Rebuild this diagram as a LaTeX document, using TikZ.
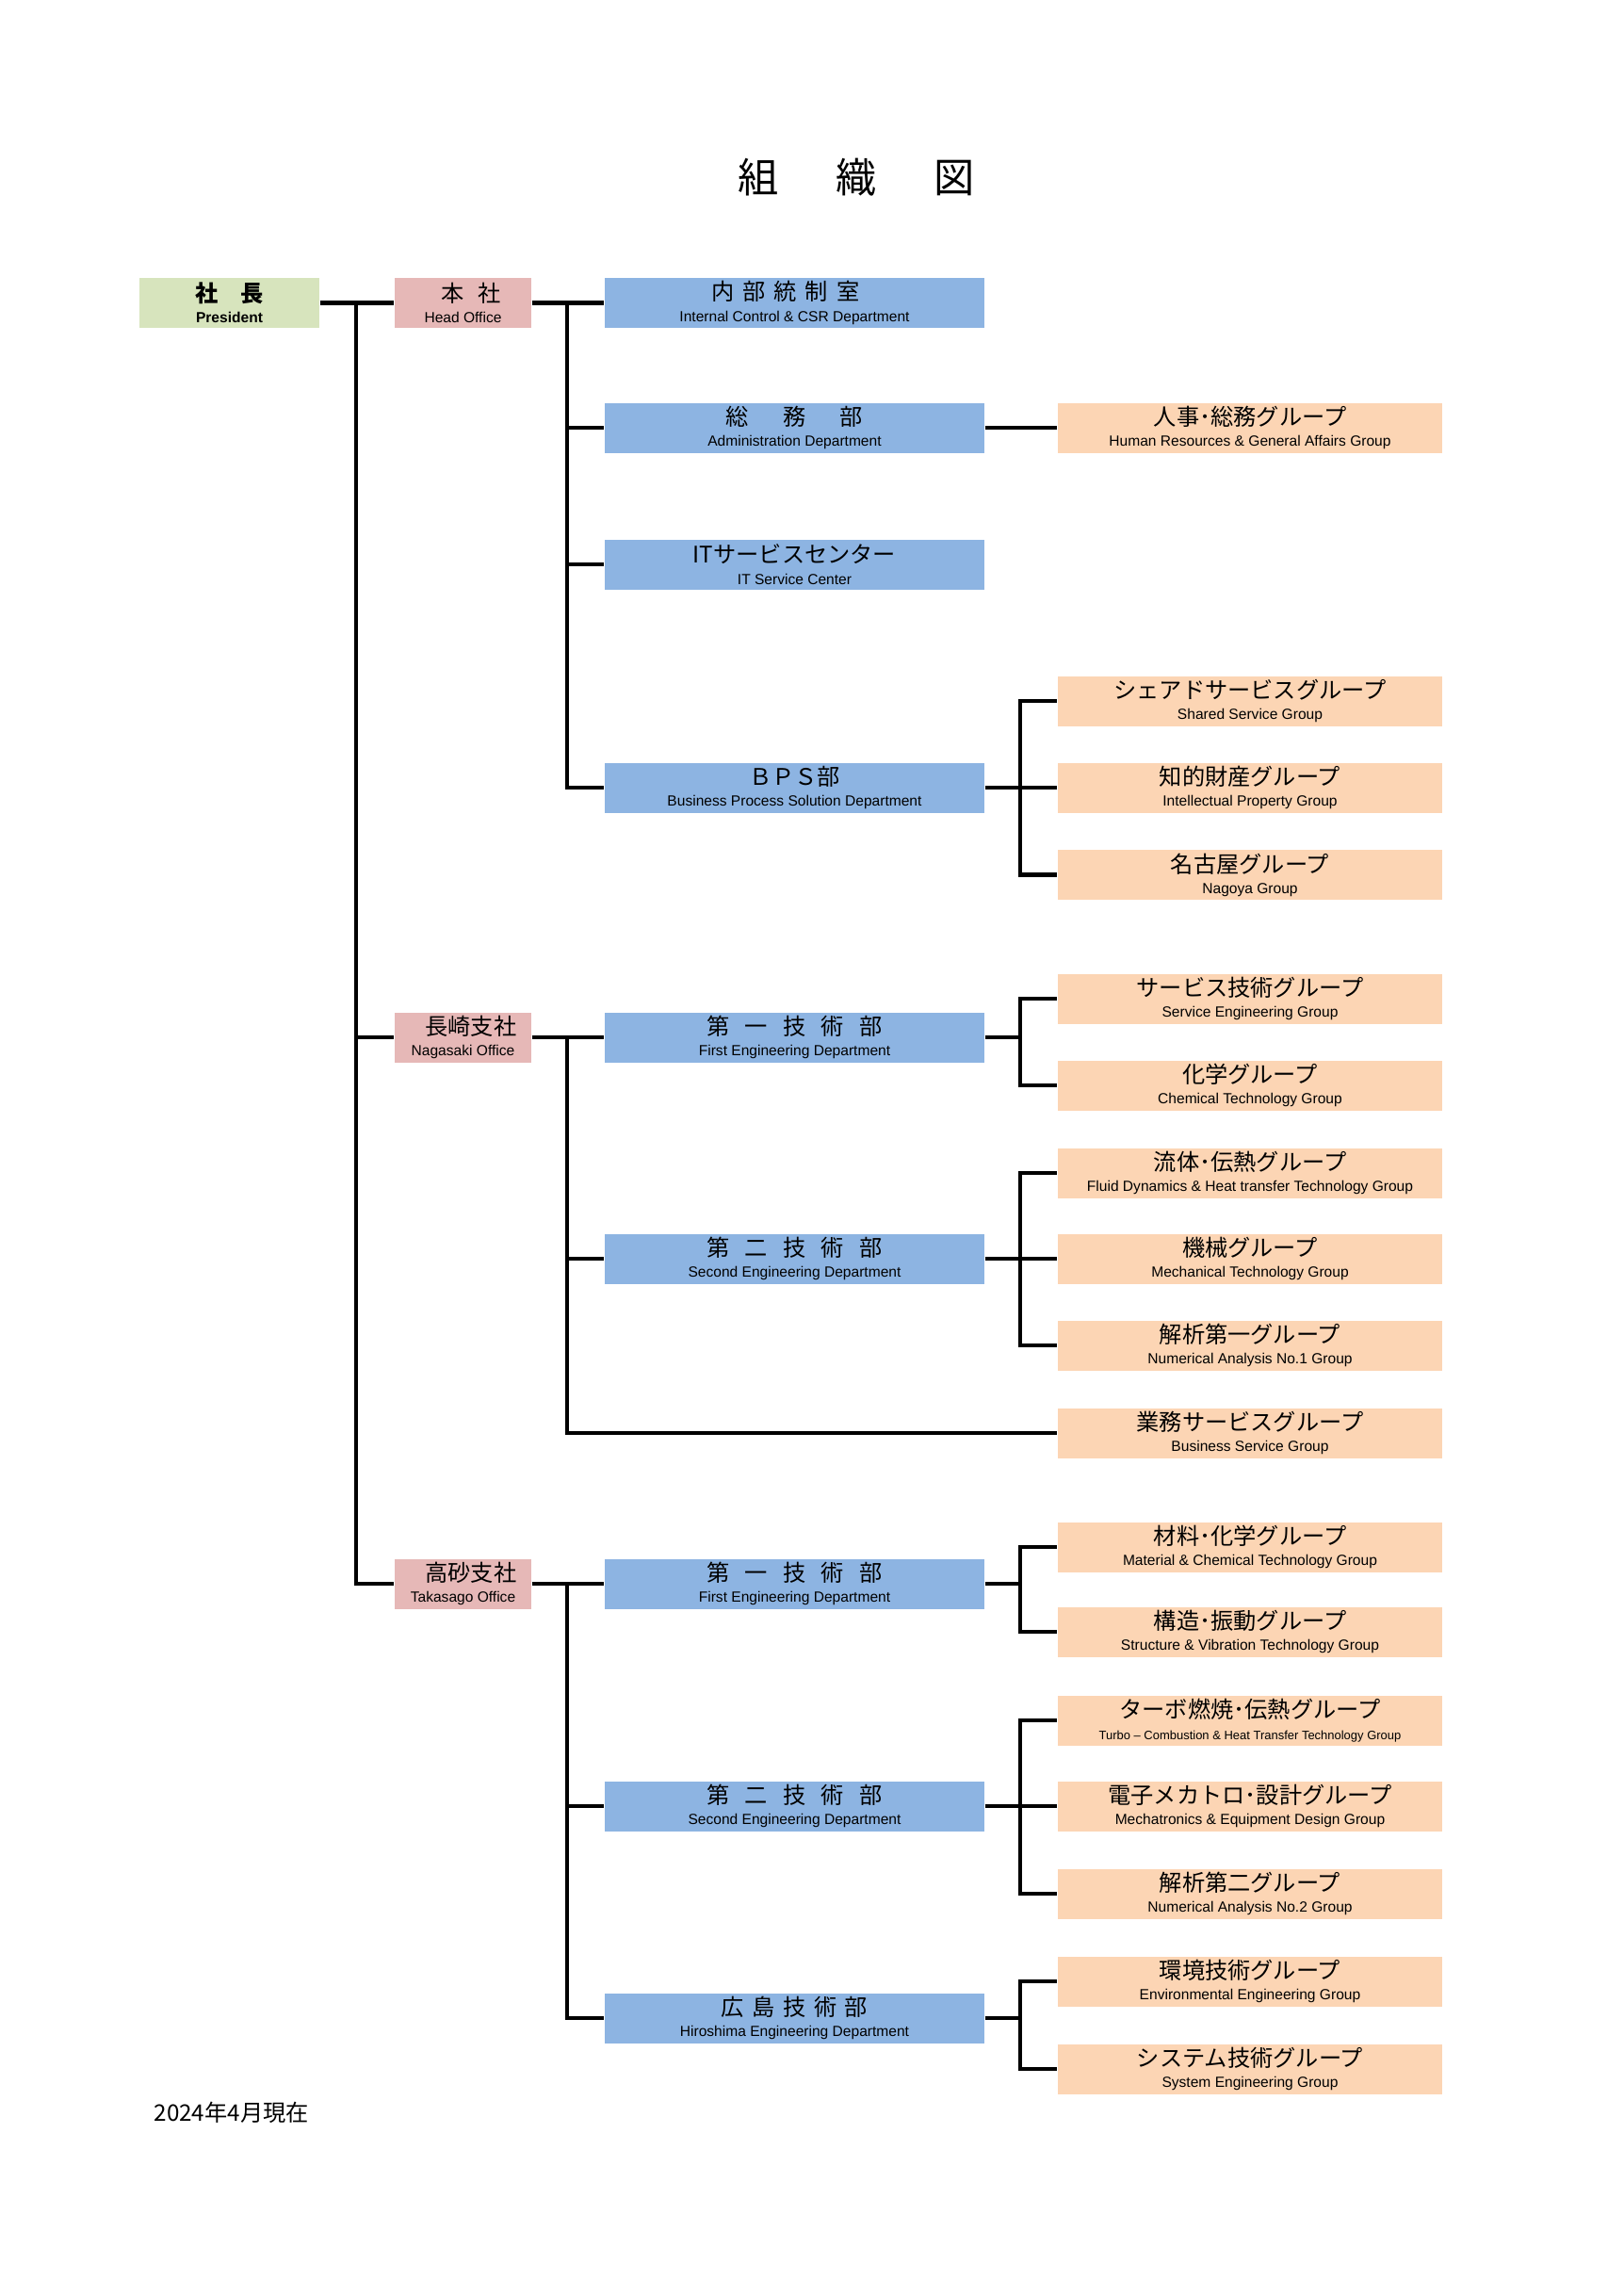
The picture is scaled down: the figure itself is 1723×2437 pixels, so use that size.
\documentclass[tikz,border=0pt]{standalone}
\usepackage{fontspec}
\setmainfont{Liberation Sans}
\newfontfamily\jpf{Noto Sans CJK JP}
\newcommand\jtxt[1]{{\jpf\fontsize{8.4}{8}\selectfont #1}}
\definecolor{cpres}{HTML}{D7E4BD}
\definecolor{coff}{HTML}{E6B8B7}
\definecolor{cdep}{HTML}{8DB4E2}
\definecolor{cgrp}{HTML}{FCD5B4}
\tikzset{
  basebox/.style={rectangle, draw=none, inner sep=0pt, minimum height=6.46mm, align=center,
    font={\lineskiplimit=-10pt\fontsize{5.4}{7.7}\selectfont}},
  presbox/.style={basebox, fill=cpres, minimum width=23.28mm},
  offbox/.style={basebox, fill=coff, minimum width=17.67mm},
  depbox/.style={basebox, fill=cdep, minimum width=49.12mm},
  grpbox/.style={basebox, fill=cgrp, minimum width=49.73mm},
  conn/.style={draw=black, line width=1.4pt, line join=miter}
}
\begin{document}
\begin{tikzpicture}[x=0.12188mm, y=-0.12188mm]
\useasboundingbox (0,0) rectangle (1723,2437);

% title and date
\node[font={\jpf\fontsize{15}{15}\selectfont}, inner sep=0pt] (title) at (909,188) {組\hspace{1.4em}織\hspace{1.4em}図};
\node[anchor=west, inner sep=0pt, font={\jpf\fontsize{8.4}{9}\selectfont}] (date) at (163,2242) {2024年4月現在};

% president
\node[presbox] (pres) at (243.5,321.5) {{\jpf\bfseries\fontsize{8.4}{8}\selectfont 社\hspace{1em}長}\\\textbf{President}};

% offices
\node[offbox] (ho) at (491.5,321.5) {\jtxt{\hspace*{0.7em}本\hspace{0.6em}社}\\Head Office};
\node[offbox] (ns) at (491.5,1101) {\jtxt{\hspace*{0.7em}長崎支社}\\Nagasaki Office};
\node[offbox] (ts) at (491.5,1681) {\jtxt{\hspace*{0.7em}高砂支社}\\Takasago Office};

% departments
\node[depbox] (ic) at (843.5,321.5) {\jtxt{内\hspace{0.37em}部\hspace{0.37em}統\hspace{0.37em}制\hspace{0.37em}室\hspace*{0.8em}}\\Internal Control \& CSR Department};
\node[depbox] (adm) at (843.5,454) {\jtxt{総\hspace{1.5em}務\hspace{1.5em}部}\\Administration Department};
\node[depbox] (it) at (843.5,599) {\jtxt{ITサービスセンター}\\IT Service Center};
\node[depbox] (bps) at (843.5,836) {\jtxt{ＢＰＳ部}\\Business Process Solution Department};
\node[depbox] (n1) at (843.5,1101) {\jtxt{第\hspace{0.67em}一\hspace{0.67em}技\hspace{0.67em}術\hspace{0.67em}部}\\First Engineering Department};
\node[depbox] (n2) at (843.5,1336) {\jtxt{第\hspace{0.67em}二\hspace{0.67em}技\hspace{0.67em}術\hspace{0.67em}部}\\Second Engineering Department};
\node[depbox] (t1) at (843.5,1681) {\jtxt{第\hspace{0.67em}一\hspace{0.67em}技\hspace{0.67em}術\hspace{0.67em}部}\\First Engineering Department};
\node[depbox] (t2) at (843.5,1917) {\jtxt{第\hspace{0.67em}二\hspace{0.67em}技\hspace{0.67em}術\hspace{0.67em}部}\\Second Engineering Department};
\node[depbox] (hir) at (843.5,2142) {\jtxt{広\hspace{0.35em}島\hspace{0.35em}技\hspace{0.35em}術\hspace{0.35em}部}\\Hiroshima Engineering Department};

% groups
\node[grpbox] (hr) at (1327,454) {\jtxt{人事･総務グループ}\\Human Resources \& General Affairs Group};
\node[grpbox] (ssg) at (1327,744) {\jtxt{シェアドサービスグループ}\\Shared Service Group};
\node[grpbox] (ip) at (1327,836) {\jtxt{知的財産グループ}\\Intellectual Property Group};
\node[grpbox] (ngy) at (1327,928.5) {\jtxt{名古屋グループ}\\Nagoya Group};
\node[grpbox] (seg) at (1327,1060) {\jtxt{サービス技術グループ}\\Service Engineering Group};
\node[grpbox] (ctg) at (1327,1152) {\jtxt{化学グループ}\\Chemical Technology Group};
\node[grpbox] (fdg) at (1327,1245) {\jtxt{流体･伝熱グループ}\\Fluid Dynamics \& Heat transfer Technology Group};
\node[grpbox] (mtg) at (1327,1336) {\jtxt{機械グループ}\\Mechanical Technology Group};
\node[grpbox] (na1) at (1327,1428) {\jtxt{解析第一グループ}\\Numerical Analysis No.1 Group};
\node[grpbox] (bsg) at (1327,1521) {\jtxt{業務サービスグループ}\\Business Service Group};
\node[grpbox] (mcg) at (1327,1642) {\jtxt{材料･化学グループ}\\Material \& Chemical Technology Group};
\node[grpbox] (svg) at (1327,1732) {\jtxt{構造･振動グループ}\\Structure \& Vibration Technology Group};
\node[grpbox] (tcg) at (1327,1826) {\jtxt{ターボ燃焼･伝熱グループ}\\{\fontsize{4.5}{7.7}\selectfont Turbo – Combustion \& Heat Transfer Technology Group}};
\node[grpbox] (mdg) at (1327,1917) {\jtxt{電子メカトロ･設計グループ}\\Mechatronics \& Equipment Design Group};
\node[grpbox] (na2) at (1327,2010) {\jtxt{解析第二グループ}\\Numerical Analysis No.2 Group};
\node[grpbox] (env) at (1327,2103) {\jtxt{環境技術グループ}\\Environmental Engineering Group};
\node[grpbox] (sys) at (1327,2196) {\jtxt{システム技術グループ}\\System Engineering Group};

% helper coordinates for vertical lines
\coordinate (tx) at (378,0);
\coordinate (dx) at (602,0);
\coordinate (gx) at (1083,0);

% trunk
\draw[conn] (pres.east) -- (ho.west);
\draw[conn] (pres.east -| tx) |- (ns.west);
\draw[conn] (pres.east -| tx) |- (ts.west);

% head office
\draw[conn] (ho.east) -- (ic.west);
\draw[conn] (ho.east -| dx) |- (adm.west);
\draw[conn] (ho.east -| dx) |- (it.west);
\draw[conn] (ho.east -| dx) |- (bps.west);
\draw[conn] (adm.east) -- (hr.west);
\draw[conn] (bps.east) -- (ip.west);
\draw[conn] (bps.east -| gx) |- (ssg.west);
\draw[conn] (bps.east -| gx) |- (ngy.west);

% nagasaki
\draw[conn] (ns.east) -- (n1.west);
\draw[conn] (ns.east -| dx) |- (n2.west);
\draw[conn] (ns.east -| dx) |- (bsg.west);
\draw[conn] (n1.east) -- (n1.east -| gx);
\draw[conn] (n1.east -| gx) |- (seg.west);
\draw[conn] (n1.east -| gx) |- (ctg.west);
\draw[conn] (n2.east) -- (mtg.west);
\draw[conn] (n2.east -| gx) |- (fdg.west);
\draw[conn] (n2.east -| gx) |- (na1.west);

% takasago
\draw[conn] (ts.east) -- (t1.west);
\draw[conn] (ts.east -| dx) |- (t2.west);
\draw[conn] (ts.east -| dx) |- (hir.west);
\draw[conn] (t1.east) -- (t1.east -| gx);
\draw[conn] (t1.east -| gx) |- (mcg.west);
\draw[conn] (t1.east -| gx) |- (svg.west);
\draw[conn] (t2.east) -- (mdg.west);
\draw[conn] (t2.east -| gx) |- (tcg.west);
\draw[conn] (t2.east -| gx) |- (na2.west);
\draw[conn] (hir.east) -- (hir.east -| gx);
\draw[conn] (hir.east -| gx) |- (env.west);
\draw[conn] (hir.east -| gx) |- (sys.west);
\end{tikzpicture}
\end{document}
